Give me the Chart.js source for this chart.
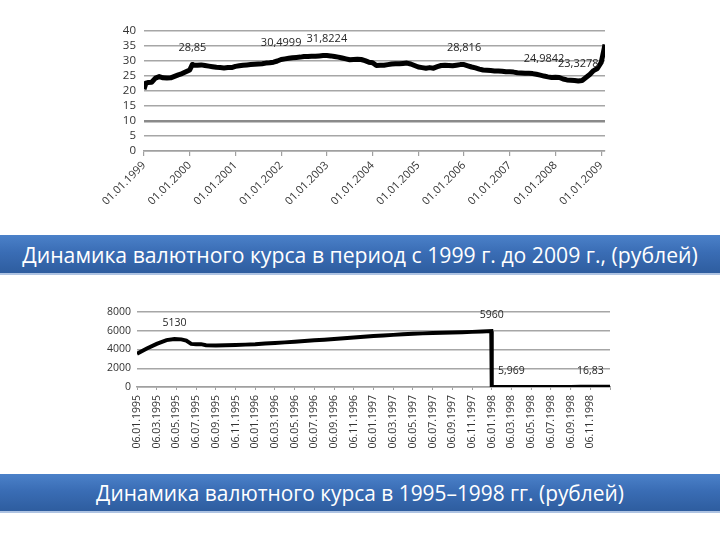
<!DOCTYPE html>
<html><head><meta charset="utf-8">
<script src="https://cdn.jsdelivr.net/npm/chart.js@4.4.1/dist/chart.umd.min.js"></script>
<style>
html,body{margin:0;padding:0;background:#fff;width:720px;height:540px;overflow:hidden;position:relative}
.box{position:absolute;left:0;width:720px}
.banner{position:absolute;left:0;width:720px;background:linear-gradient(#4b81c9,#3a6db5 45%,#2e5d9f);color:#fff;text-align:center;white-space:nowrap;font-family:"Open Sans",sans-serif;border-bottom:2px solid #aec3e2;box-sizing:border-box;display:flex;align-items:center;justify-content:center}
.banner span{display:inline-block}
</style></head>
<body>
<div class="box" style="top:0;height:232px"><canvas id="c1" width="720" height="232"></canvas></div>
<div class="banner" id="b1" style="top:235px;height:40px"><span>Динамика валютного курса в период с 1999 г. до 2009 г., (рублей)</span></div>
<div class="box" style="top:290px;height:175px"><canvas id="c2" width="720" height="175"></canvas></div>
<div class="banner" id="b2" style="top:474px;height:39px"><span>Динамика валютного курса в 1995–1998 гг. (рублей)</span></div>
<script>
// ---------- Chart 1: 1999–2009 (x = months since 01.01.1999) ----------
const topTickLabels = ['01.01.1999','01.01.2000','01.01.2001','01.01.2002','01.01.2003','01.01.2004','01.01.2005','01.01.2006','01.01.2007','01.01.2008','01.01.2009'];
const topYTicks = [0,5,10,15,20,25,30,35,40];
const topMonths = [0,0.5,1,2,3,4,5,6,7,8,9,10,11,12,12.7,13,14,15,16,17,18,19,20,21,22,23,24,25,26,27,28,29,30,31,32,33,34,35,36,37,38,39,40,41,42,43,44,45,46,47,48,49,50,51,52,53,54,55,56,57,58,59,60,61,62,63,64,65,66,67,68,69,70,71,72,73,74,75,76,77,78,79,80,81,82,83,84,85,86,87,88,89,90,91,92,93,94,95,96,97,98,99,100,101,102,103,104,105,106,107,108,109,110,111,112,113,114,115,116,117,118,119,120,120.6,121];
const topRates = [20.6,22.6,22.8,22.9,24.3,24.8,24.4,24.3,24.4,24.9,25.4,25.8,26.4,27.0,28.85,28.7,28.6,28.7,28.5,28.3,28.1,27.9,27.8,27.7,27.8,27.8,28.2,28.4,28.6,28.7,28.8,28.9,29.0,29.1,29.3,29.4,29.6,30.0,30.5,30.7,30.9,31.1,31.2,31.3,31.5,31.5,31.6,31.6,31.7,31.8,31.82,31.7,31.5,31.3,31.0,30.7,30.4,30.5,30.6,30.5,30.1,29.6,29.4,28.5,28.6,28.6,28.8,29.0,29.1,29.1,29.2,29.3,29.0,28.5,28.0,27.8,27.6,27.8,27.6,28.1,28.5,28.6,28.5,28.4,28.6,28.8,28.8,28.4,28.0,27.7,27.3,27.0,26.9,26.8,26.7,26.7,26.6,26.4,26.4,26.3,26.1,26.0,25.9,25.9,25.8,25.6,25.3,24.98,24.7,24.5,24.6,24.5,24.0,23.7,23.6,23.5,23.33,23.5,24.5,25.5,26.8,27.5,29.5,33.0,35.5];
const topLabelX = [12.7,36,48,84,105,114];
const topLabelY = [28.85,30.4999,31.8224,28.816,24.9842,23.3278];
const topLabelText = ['28,85','30,4999','31,8224','28,816','24,9842','23,3278'];

// ---------- Chart 2: 1995–1998 (x = months since 06.01.1995) ----------
const botTickLabels = ['06.01.1995','06.03.1995','06.05.1995','06.07.1995','06.09.1995','06.11.1995','06.01.1996','06.03.1996','06.05.1996','06.07.1996','06.09.1996','06.11.1996','06.01.1997','06.03.1997','06.05.1997','06.07.1997','06.09.1997','06.11.1997','06.01.1998','06.03.1998','06.05.1998','06.07.1998','06.09.1998','06.11.1998'];
const botYTicks = [0,2000,4000,6000,8000];
const botMonths = [0,1,2,3,3.8,4.5,5,5.5,6,6.5,7,8,9,10,11,12,13,14,15,16,17,18,19,20,21,22,23,24,25,26,27,28,29,30,31,32,33,34,35,35.95,36,37,38,39,40,41,42,43,44,45,46,47,48];
const botRates = [3550,4100,4600,5000,5130,5080,4950,4600,4550,4570,4450,4430,4450,4480,4520,4560,4640,4700,4760,4830,4900,4980,5050,5130,5200,5270,5350,5430,5500,5560,5620,5670,5720,5760,5790,5820,5850,5880,5920,5960,5.969,5.99,6.0,6.05,6.1,6.15,6.2,6.3,8,16,16.83,17.5,20.6];
const botLabelX = [3.8,36,38,46];
const botLabelY = [5130,5960,5.969,16.83];
const botLabelText = ['5130','5960','5,969','16,83'];

const FONT = '"Open Sans", sans-serif';
Chart.defaults.font.family = FONT;
Chart.defaults.color = '#333';

const labelPlugin = {
  id: 'ptLabels',
  afterDatasetsDraw(chart, args, opts) {
    const {ctx} = chart; const xs = chart.scales.x, ys = chart.scales.y;
    ctx.save();
    ctx.font = opts.size + 'px ' + FONT;
    ctx.fillStyle = '#262626'; ctx.textAlign = 'center'; ctx.textBaseline = 'middle';
    opts.xs.forEach((v, i) => {
      ctx.fillText(opts.texts[i], xs.getPixelForValue(v), ys.getPixelForValue(opts.ys[i]) - opts.offset);
    });
    ctx.restore();
  }
};

function zip(a, b) { return a.map((x, i) => ({x, y: b[i]})); }

new Chart(document.getElementById('c1'), {
  type: 'line',
  data: {datasets: [{data: zip(topMonths, topRates), borderColor: '#000', borderWidth: 5, pointRadius: 0, tension: 0, borderJoinStyle: 'round'}]},
  options: {
    responsive: false, animation: false,
    layout: {padding: {left: 100, right: 115, top: 31, bottom: 0}},
    plugins: {legend: {display: false}, tooltip: {enabled: false},
      ptLabels: {xs: topLabelX, ys: topLabelY, texts: topLabelText, offset: 17, size: 11}},
    scales: {
      x: {type: 'linear', min: 0, max: 121,
        afterFit(s) { s.height = 81; },
        border: {display: true, color: '#a0a0a0', width: 1.5},
        grid: {display: true, drawOnChartArea: false, drawTicks: true, tickLength: 5, color: '#a0a0a0', lineWidth: 1.2},
        ticks: {stepSize: 12, includeBounds: false, autoSkip: false, minRotation: 45, maxRotation: 45, padding: 3, font: {size: 11},
          callback: v => (v % 12 === 0 ? topTickLabels[v / 12] : '')}},
      y: {min: 0, max: 40,
        afterBuildTicks(s) { s.ticks = topYTicks.map(v => ({value: v})); },
        afterFit(s) { s.width = 44; },
        border: {display: false},
        grid: {drawTicks: false, color: c => (c.tick && c.tick.value === 10 ? '#8a8a8a' : '#a6a6a6'), lineWidth: c => (c.tick && c.tick.value === 10 ? 2.5 : 1.6)},
        ticks: {autoSkip: false, padding: 8, font: {size: 11.5}, callback: v => String(v)}}
    }
  },
  plugins: [labelPlugin]
});

new Chart(document.getElementById('c2'), {
  type: 'line',
  data: {datasets: [{data: zip(botMonths, botRates), borderColor: '#000', borderWidth: 4, pointRadius: 0, tension: 0, borderJoinStyle: 'miter'}]},
  options: {
    responsive: false, animation: false,
    layout: {padding: {left: 100, right: 110, top: 22, bottom: 0}},
    plugins: {legend: {display: false}, tooltip: {enabled: false},
      ptLabels: {xs: botLabelX, ys: botLabelY, texts: botLabelText, offset: 16, size: 10.5}},
    scales: {
      x: {type: 'linear', min: 0, max: 48,
        afterFit(s) { s.height = 78; },
        border: {display: true, color: '#a0a0a0', width: 1.5},
        grid: {display: true, drawOnChartArea: false, drawTicks: true, tickLength: 3, color: '#a0a0a0', lineWidth: 1},
        ticks: {stepSize: 2, includeBounds: false, autoSkip: false, minRotation: 90, maxRotation: 90, padding: 5, font: {size: 10.5},
          callback: v => (v % 2 === 0 && v / 2 < botTickLabels.length ? botTickLabels[v / 2] : '')}},
      y: {min: 0, max: 8000,
        afterBuildTicks(s) { s.ticks = botYTicks.map(v => ({value: v})); },
        afterFit(s) { s.width = 37; },
        border: {display: false},
        grid: {drawTicks: false, color: '#a6a6a6', lineWidth: 1.4},
        ticks: {autoSkip: false, padding: 6, font: {size: 10.5}, callback: v => String(v)}}
    }
  },
  plugins: [labelPlugin]
});

// fit banner text widths
function fit(id, target) {
  const sp = document.querySelector('#' + id + ' span');
  sp.style.fontSize = '20px';
  const w = sp.getBoundingClientRect().width;
  sp.style.fontSize = (20 * target / w) + 'px';
}
fit('b1', 676); fit('b2', 528);
</script>
</body></html>
